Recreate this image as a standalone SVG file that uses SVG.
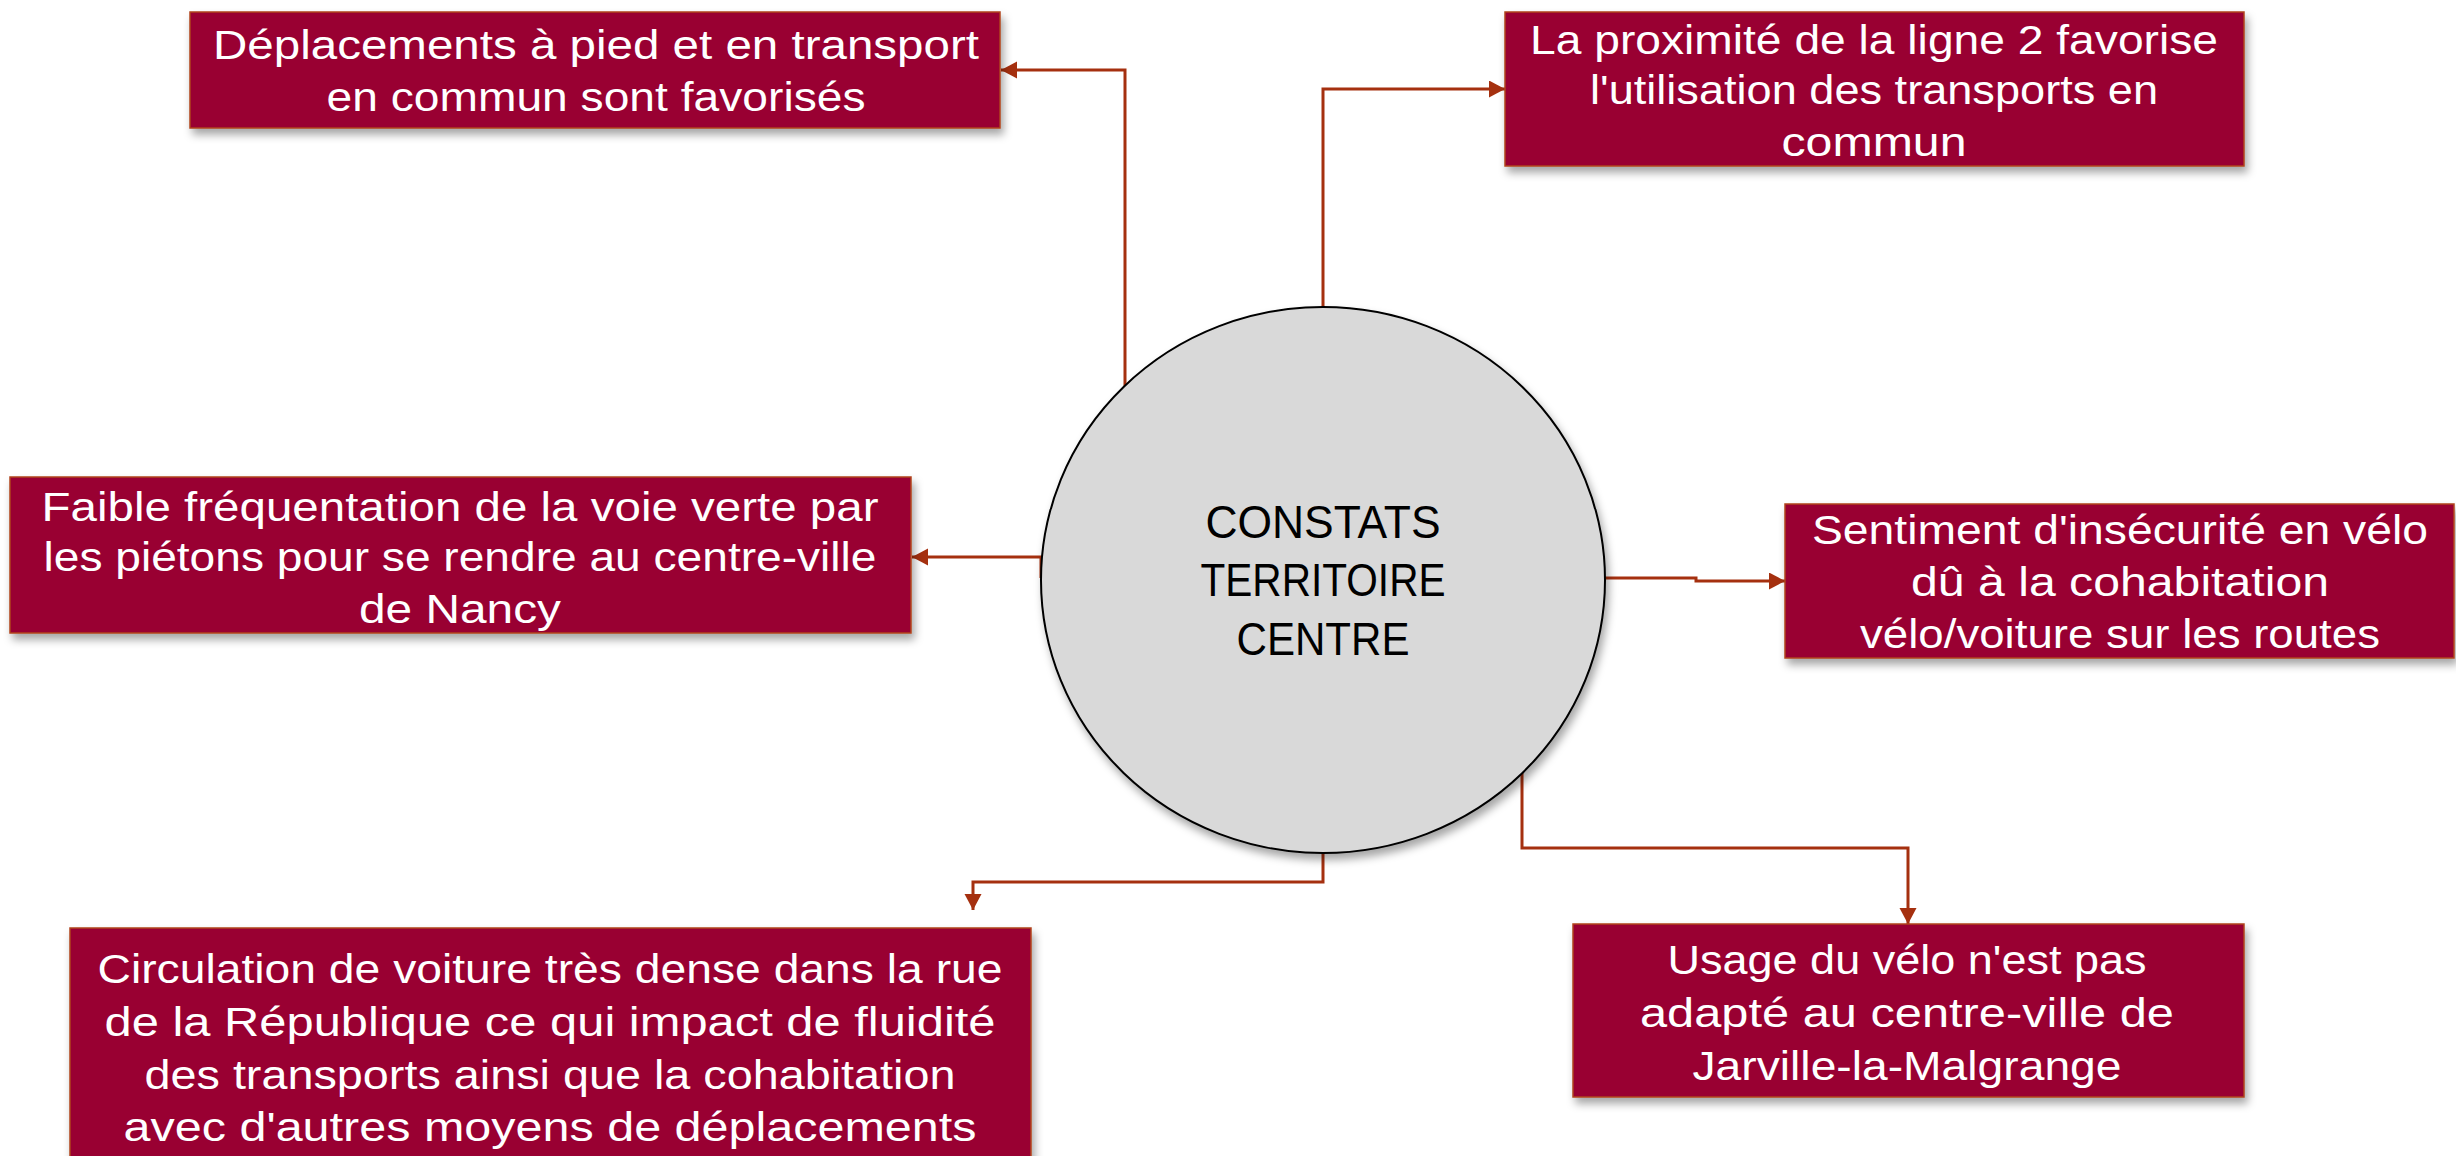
<svg xmlns="http://www.w3.org/2000/svg" width="2456" height="1156" viewBox="0 0 2456 1156">
<defs>
<filter id="sh" x="-10%" y="-10%" width="125%" height="130%">
<feDropShadow dx="3" dy="6" stdDeviation="4" flood-color="#000" flood-opacity="0.35"/>
</filter>
<marker id="arr" markerUnits="userSpaceOnUse" markerWidth="18" markerHeight="18" refX="16" refY="8.5" orient="auto">
<path d="M0,0 L16,8.5 L0,17 Z" fill="#a5300f"/>
</marker>
<style>
.box{fill:#990033;stroke:#b0431c;stroke-width:1.5}
.bt{font-family:"Liberation Sans",Arial,sans-serif;font-size:41px;fill:#ffffff;text-anchor:middle}
.ct{font-family:"Liberation Sans",Arial,sans-serif;font-size:46px;fill:#000000;text-anchor:middle}
.con{fill:none;stroke:#a5300f;stroke-width:3;marker-end:url(#arr)}
</style>
</defs>
<rect width="2456" height="1156" fill="#ffffff"/>
<g id="connectors">
<path class="con" d="M1125,386 V70 H1001"/>
<path class="con" d="M1323,307 V89 H1505"/>
<path class="con" d="M1041,578 V557 H912"/>
<path class="con" d="M1605,578 H1696 V581 H1785"/>
<path class="con" d="M1323,852 V882 H973 V910"/>
<path class="con" d="M1522,772 V848 H1908 V924"/>
</g>
<g id="center">
<ellipse cx="1323" cy="580" rx="282" ry="273" fill="#d9d9d9" stroke="#000" stroke-width="2" filter="url(#sh)"/>
<text class="ct" x="1323" y="538" textLength="235" lengthAdjust="spacingAndGlyphs">CONSTATS</text>
<text class="ct" x="1323" y="596" textLength="245" lengthAdjust="spacingAndGlyphs">TERRITOIRE</text>
<text class="ct" x="1323" y="655" textLength="173" lengthAdjust="spacingAndGlyphs">CENTRE</text>
</g>
<g id="n1">
<rect class="box" x="190" y="12" width="810" height="116" filter="url(#sh)"/>
<text class="bt" x="596" y="59" textLength="766" lengthAdjust="spacingAndGlyphs">Déplacements à pied et en transport</text>
<text class="bt" x="596" y="111" textLength="539" lengthAdjust="spacingAndGlyphs">en commun sont favorisés</text>
</g>
<g id="n2">
<rect class="box" x="1505" y="12" width="739" height="154" filter="url(#sh)"/>
<text class="bt" x="1874" y="54" textLength="688" lengthAdjust="spacingAndGlyphs">La proximité de la ligne 2 favorise</text>
<text class="bt" x="1874" y="104" textLength="568" lengthAdjust="spacingAndGlyphs">l'utilisation des transports en</text>
<text class="bt" x="1874" y="156" textLength="185" lengthAdjust="spacingAndGlyphs">commun</text>
</g>
<g id="n3">
<rect class="box" x="10" y="477" width="901" height="156" filter="url(#sh)"/>
<text class="bt" x="460" y="521" textLength="837" lengthAdjust="spacingAndGlyphs">Faible fréquentation de la voie verte par</text>
<text class="bt" x="460" y="571" textLength="833" lengthAdjust="spacingAndGlyphs">les piétons pour se rendre au centre-ville</text>
<text class="bt" x="460" y="623" textLength="202" lengthAdjust="spacingAndGlyphs">de Nancy</text>
</g>
<g id="n4">
<rect class="box" x="1785" y="504" width="669" height="154" filter="url(#sh)"/>
<text class="bt" x="2120" y="544" textLength="616" lengthAdjust="spacingAndGlyphs">Sentiment d'insécurité en vélo</text>
<text class="bt" x="2120" y="596" textLength="418" lengthAdjust="spacingAndGlyphs">dû à la cohabitation</text>
<text class="bt" x="2120" y="648" textLength="520" lengthAdjust="spacingAndGlyphs">vélo/voiture sur les routes</text>
</g>
<g id="n5">
<rect class="box" x="70" y="928" width="961" height="240" filter="url(#sh)"/>
<text class="bt" x="550" y="983" textLength="905" lengthAdjust="spacingAndGlyphs">Circulation de voiture très dense dans la rue</text>
<text class="bt" x="550" y="1036" textLength="891" lengthAdjust="spacingAndGlyphs">de la République ce qui impact de fluidité</text>
<text class="bt" x="550" y="1089" textLength="811" lengthAdjust="spacingAndGlyphs">des transports ainsi que la cohabitation</text>
<text class="bt" x="550" y="1141" textLength="853" lengthAdjust="spacingAndGlyphs">avec d'autres moyens de déplacements</text>
</g>
<g id="n6">
<rect class="box" x="1573" y="924" width="671" height="173" filter="url(#sh)"/>
<text class="bt" x="1907" y="974" textLength="479" lengthAdjust="spacingAndGlyphs">Usage du vélo n'est pas</text>
<text class="bt" x="1907" y="1027" textLength="534" lengthAdjust="spacingAndGlyphs">adapté au centre-ville de</text>
<text class="bt" x="1907" y="1080" textLength="429" lengthAdjust="spacingAndGlyphs">Jarville-la-Malgrange</text>
</g>
</svg>
